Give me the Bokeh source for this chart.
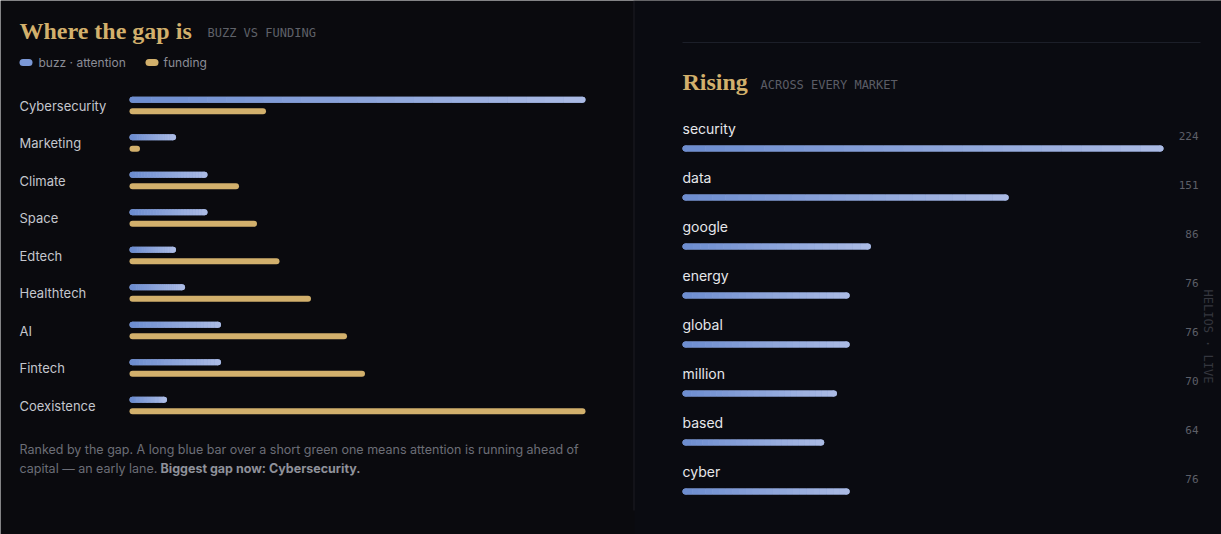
import math
from bokeh.plotting import figure
from bokeh.models import Range1d, BoxAnnotation
from bokeh.core.properties import value
from bokeh.embed import file_html
from bokeh.resources import INLINE

# ---------------- data ----------------
gap_categories = ["Cybersecurity", "Marketing", "Climate", "Space", "Edtech",
                  "Healthtech", "AI", "Fintech", "Coexistence"]
buzz_share = [100, 9, 16, 16, 9, 11, 19, 19, 7]
funding_share = [29, 1, 23, 27, 32, 39, 47, 51, 100]

rising_terms = ["security", "data", "google", "energy", "global", "million", "based", "cyber"]
rising_counts = [224, 151, 86, 76, 76, 70, 64, 76]

# ---------------- style ----------------
BG_L = "#0a0a0e"
BG_R = "#0a0b11"
GOLD = "#d2b06c"
BLUE0 = "#6d8dd0"
BLUE1 = "#abbbe4"
SANS = "Inter"
SERIF = "Liberation Serif"
MONO = "DejaVu Sans Mono"
W, H = 1221, 534
SPLIT = 634


def mix(c0, c1, t):
    a = [int(c0[i:i + 2], 16) for i in (1, 3, 5)]
    b = [int(c1[i:i + 2], 16) for i in (1, 3, 5)]
    return "#%02x%02x%02x" % tuple(round(a[j] + (b[j] - a[j]) * t) for j in range(3))


# left panel mapping (value 0 at pixel 132, 4.5 px per unit; rows every 37.5 px from 105)
L_X0, L_PX = 132.0, 4.5
L_Y0, L_ROW = 105.0, 37.5
lx = lambda px: (px - L_X0) / L_PX
ly = lambda py: (py - L_Y0) / L_ROW
# right panel mapping
R_X0 = 685.0
R_PX = 475.0 / max(rising_counts)
R_Y0, R_ROW = 148.0, 49.0
rx = lambda px: (px - R_X0) / R_PX
ry = lambda py: (py - R_Y0) / R_ROW

p = figure(width=W, height=H, x_range=Range1d(lx(0), lx(W)), y_range=Range1d(ly(H), ly(0)),
           output_backend="svg", toolbar_location=None, x_axis_location=None, y_axis_location=None,
           min_border=0, background_fill_color=BG_L, border_fill_color=BG_L, outline_line_color=None)
p.grid.visible = False
p.extra_x_ranges = {"r": Range1d(rx(0), rx(W))}
p.extra_y_ranges = {"r": Range1d(ry(H), ry(0))}
R = dict(x_range_name="r", y_range_name="r")

# right background tint
p.add_layout(BoxAnnotation(left=lx(SPLIT), fill_color=BG_R, fill_alpha=1, line_color=None, level="underlay"))


def gradient_bars(vals, ys, lw=6, n=24, **kw):
    mid = mix(BLUE0, BLUE1, 0.5)
    p.segment(x0=[0] * len(vals), y0=ys, x1=vals, y1=ys, line_color=mid, line_width=lw,
              line_cap="round", **kw)
    p.scatter(x=[0] * len(vals), y=ys, size=lw, fill_color=BLUE0, line_color=None, **kw)
    p.scatter(x=vals, y=ys, size=lw, fill_color=BLUE1, line_color=None, **kw)
    x0s, x1s, yy, cols = [], [], [], []
    for v, y in zip(vals, ys):
        for k in range(n):
            x0s.append(v * k / n)
            x1s.append(v * (k + 1) / n)
            yy.append(y)
            cols.append(mix(BLUE0, BLUE1, (k + 0.5) / n))
    p.segment(x0=x0s, y0=yy, x1=x1s, y1=yy, line_color=cols, line_width=lw, line_cap="butt", **kw)


# ---------------- left panel: buzz vs funding ----------------
idx = list(range(len(gap_categories)))
buzz_y = [i - 0.155 for i in idx]
fund_y = [i + 0.155 for i in idx]
gradient_bars(buzz_share, buzz_y)
p.segment(x0=[0] * len(idx), y0=fund_y, x1=funding_share, y1=fund_y,
          line_color=GOLD, line_width=6, line_cap="round")
p.text(x=[lx(19)] * len(idx), y=idx, text=gap_categories, text_baseline="middle",
       text_font=value(SANS), text_font_size="13px", text_color="#c4c6cd")

p.text(x=[lx(19)], y=[ly(30)], text=["Where the gap is"], text_baseline="middle",
       text_font=value(SERIF), text_font_style="bold", text_font_size="24px", text_color=GOLD)
p.text(x=[lx(207)], y=[ly(32)], text=["BUZZ VS FUNDING"], text_baseline="middle",
       text_font=value(MONO), text_font_size="12px", text_color="#5f6169")
p.segment(x0=[lx(22.5), lx(148.5)], y0=[ly(62), ly(62)], x1=[lx(28.5), lx(154.5)], y1=[ly(62), ly(62)],
          line_color=["#7b98d6", GOLD], line_width=7, line_cap="round")
p.text(x=[lx(38), lx(163)], y=[ly(62), ly(62)], text=["buzz · attention", "funding"],
       text_baseline="middle", text_font=value(SANS), text_font_size="12px", text_color="#8b8d96")
p.text(x=[lx(19), lx(19)], y=[ly(449), ly(468)],
       text=["Ranked by the gap. A long blue bar over a short green one means attention is running ahead of",
             "capital — an early lane."],
       text_baseline="middle", text_font=value(SANS), text_font_size="12.5px", text_color="#6c6e77")
p.text(x=[lx(160)], y=[ly(468)], text=["Biggest gap now: Cybersecurity."], text_baseline="middle",
       text_font=value(SANS), text_font_style="bold", text_font_size="12.5px", text_color="#8f919a")
p.segment(x0=[lx(633.5)], y0=[ly(0)], x1=[lx(633.5)], y1=[ly(510)], line_color="#1c1d24", line_width=1)

# ---------------- right panel: rising terms ----------------
ridx = list(range(len(rising_terms)))
gradient_bars(rising_counts, ridx, **R)
p.text(x=[rx(682)] * len(ridx), y=[i - 20 / R_ROW for i in ridx], text=rising_terms,
       text_baseline="middle", text_font=value(SANS), text_font_size="14px", text_color="#e6e7eb", **R)
p.text(x=[rx(1198)] * len(ridx), y=[i - 13 / R_ROW for i in ridx], text=[str(c) for c in rising_counts],
       text_baseline="middle", text_align="right", text_font=value(MONO), text_font_size="11px",
       text_color="#5d5f68", **R)

p.segment(x0=[rx(682)], y0=[ry(42)], x1=[rx(1200)], y1=[ry(42)], line_color="#1c1f29", line_width=1, **R)
p.text(x=[rx(682)], y=[ry(81)], text=["Rising"], text_baseline="middle",
       text_font=value(SERIF), text_font_style="bold", text_font_size="24px", text_color=GOLD, **R)
p.text(x=[rx(760)], y=[ry(84)], text=["ACROSS EVERY MARKET"], text_baseline="middle",
       text_font=value(MONO), text_font_size="12px", text_color="#5b5d66", **R)
p.text(x=[rx(1207)], y=[ry(336)], text=["HELIOS · LIVE"], angle=-math.pi / 2,
       text_baseline="middle", text_align="center", text_font=value(MONO), text_font_size="12px",
       text_color="#34363e", **R)

open("out.html", "w").write(file_html(p, INLINE))
